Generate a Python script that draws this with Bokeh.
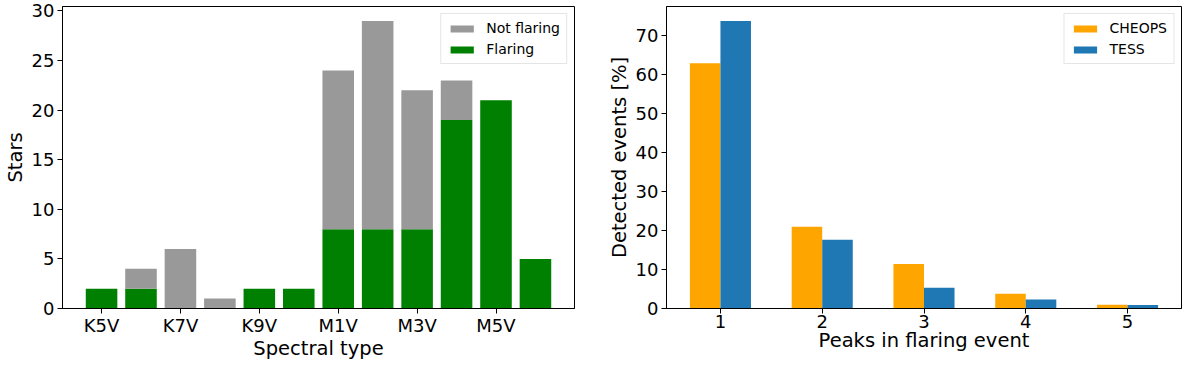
from bokeh.plotting import figure
from bokeh.models import (ColumnDataSource, Range1d, FixedTicker, SingleIntervalTicker,
                          Legend, LegendItem)
from bokeh.layouts import row
from bokeh.transform import dodge
from bokeh.embed import file_html
from bokeh.resources import INLINE

# ---- data: left panel ----
spectral_types = ["K5V", "K6V", "K7V", "K8V", "K9V", "M0V",
                  "M1V", "M2V", "M3V", "M4V", "M5V", "M6V"]
flaring = [2, 2, 0, 0, 2, 2, 8, 8, 8, 19, 21, 5]
not_flaring = [0, 2, 6, 1, 0, 0, 16, 21, 14, 4, 0, 0]

# ---- data: right panel ----
peaks = [1, 2, 3, 4, 5]
cheops = [62.86, 20.95, 11.43, 3.81, 0.95]
tess = [73.7, 17.6, 5.3, 2.3, 0.9]

FONT = "DejaVu Sans"


def style(p):
    p.xgrid.visible = False
    p.ygrid.visible = False
    p.outline_line_color = "black"
    p.outline_line_alpha = 1.0
    p.outline_line_width = 1
    p.background_fill_color = "white"
    p.border_fill_color = "white"
    for ax in (p.xaxis[0], p.yaxis[0]):
        ax.major_tick_in = 0
        ax.major_tick_out = 5
        ax.minor_tick_line_color = None
        ax.axis_line_color = "black"
        ax.major_tick_line_color = "black"
        ax.major_label_text_font = FONT
        ax.major_label_text_font_size = "18px"
        ax.major_label_text_color = "black"
        ax.axis_label_text_font = FONT
        ax.axis_label_text_font_size = "19.5px"
        ax.axis_label_text_font_style = "normal"
        ax.axis_label_text_color = "black"
    p.xaxis[0].major_label_standoff = 1
    p.xaxis[0].axis_label_standoff = -2
    p.yaxis[0].major_label_standoff = 3
    p.yaxis[0].axis_label_standoff = 2


def style_legend(lg):
    lg.location = "top_right"
    lg.label_text_font = FONT
    lg.label_text_font_size = "14px"
    lg.label_text_color = "black"
    lg.glyph_width = 29
    lg.glyph_height = 9
    lg.label_height = 16
    lg.label_standoff = 10
    lg.padding = 6
    lg.spacing = 5
    lg.margin = 7
    lg.border_line_color = "#cccccc"
    lg.border_line_width = 1
    lg.background_fill_alpha = 0.8


# ---------------- left panel ----------------
p1 = figure(width=590, height=362, x_range=Range1d(-0.99, 11.99), y_range=Range1d(0, 30.45),
            output_backend="svg", toolbar_location=None,
            min_border_left=50, min_border_right=16, min_border_top=6, min_border_bottom=40)
idx = list(range(len(spectral_types)))
src1 = ColumnDataSource(dict(x=idx, flaring=flaring, not_flaring=not_flaring))
rs = p1.vbar_stack(["flaring", "not_flaring"], x="x", width=0.8,
                   color=["#008000", "#999999"], line_color=None, source=src1)
style(p1)
p1.xaxis.ticker = FixedTicker(ticks=idx[::2])
p1.xaxis.major_label_overrides = {i: spectral_types[i] for i in idx[::2]}
p1.yaxis.ticker = SingleIntervalTicker(interval=5)
p1.xaxis.axis_label = "Spectral type"
p1.yaxis.axis_label = "Stars"
lg1 = Legend(items=[LegendItem(label="Not flaring", renderers=[rs[1]]),
                    LegendItem(label="Flaring", renderers=[rs[0]])])
style_legend(lg1)
p1.add_layout(lg1)

# ---------------- right panel ----------------
p2 = figure(width=594, height=362, x_range=Range1d(0.47, 5.53), y_range=Range1d(0, 77.4),
            output_backend="svg", toolbar_location=None,
            min_border_left=76, min_border_right=3, min_border_top=2, min_border_bottom=40)
src2 = ColumnDataSource(dict(peaks=peaks, cheops=cheops, tess=tess))
r1 = p2.vbar(x=dodge("peaks", -0.15), top="cheops", width=0.3, color="#FFA500",
             line_color=None, source=src2)
r2 = p2.vbar(x=dodge("peaks", 0.15), top="tess", width=0.3, color="#1f77b4",
             line_color=None, source=src2)
style(p2)
p2.xaxis.ticker = FixedTicker(ticks=peaks)
p2.yaxis.ticker = SingleIntervalTicker(interval=10)
p2.xaxis.axis_label = "Peaks in flaring event"
p2.yaxis.axis_label = "Detected events [%]"
lg2 = Legend(items=[LegendItem(label="CHEOPS", renderers=[r1]),
                    LegendItem(label="TESS", renderers=[r2])])
style_legend(lg2)
p2.add_layout(lg2)

layout = row(p1, p2)
open("out.html", "w").write(file_html(layout, INLINE))
